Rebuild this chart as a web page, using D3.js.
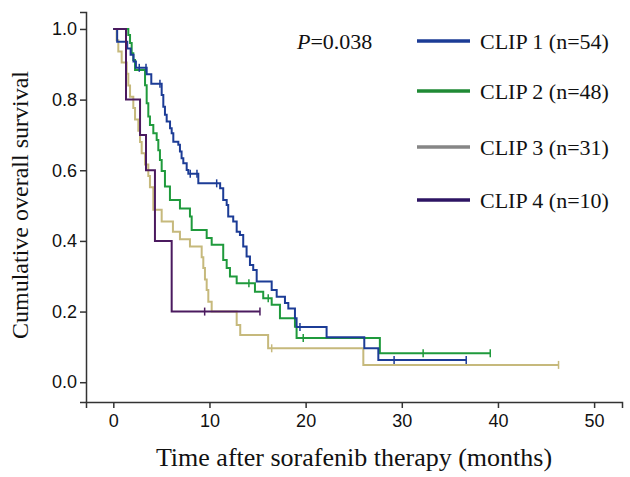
<!DOCTYPE html>
<html><head><meta charset="utf-8">
<script src="https://cdn.jsdelivr.net/npm/d3@7"></script>
<style>html,body{margin:0;padding:0;background:#fff}</style>
</head><body>
<svg id="c" width="630" height="477"></svg>
<script>
// ---- data ----
const seriesNames = ["CLIP 1 (n=54)", "CLIP 2 (n=48)", "CLIP 3 (n=31)", "CLIP 4 (n=10)"];
const clip1Times = [0.40,1.45,1.80,2.10,2.35,3.47,3.95,5.03,5.20,5.37,5.55,5.90,6.07,6.24,6.76,6.93,7.10,7.28,7.63,7.80,8.84,11.11,11.43,11.79,11.95,12.47,12.83,13.17,13.51,13.86,14.21,14.55,14.91,16.47,16.99,17.85,18.20,18.89,19.06,22.18,26.10,27.56];
const clip1Surv  = [0.964,0.945,0.927,0.908,0.890,0.872,0.845,0.813,0.780,0.757,0.738,0.719,0.705,0.681,0.672,0.653,0.634,0.620,0.601,0.590,0.563,0.549,0.516,0.502,0.469,0.455,0.426,0.417,0.384,0.356,0.332,0.318,0.285,0.261,0.242,0.224,0.209,0.181,0.156,0.127,0.096,0.063];
const clip1Censor = [2.7,3.4,4.85,8.0,8.7,10.75,19.41,29.2,36.7];

const clip2Times = [1.56,1.74,1.91,2.08,2.26,3.30,3.47,3.64,3.81,4.16,4.51,4.68,4.85,5.03,5.37,5.89,6.93,7.97,8.15,9.71,10.23,11.43,11.79,12.13,12.83,14.73,15.59,16.47,17.33,18.89,19.06,27.72];
const clip2Surv  = [0.983,0.960,0.931,0.912,0.884,0.841,0.790,0.752,0.728,0.705,0.686,0.657,0.629,0.598,0.554,0.516,0.492,0.469,0.431,0.408,0.389,0.346,0.323,0.299,0.280,0.256,0.238,0.219,0.181,0.157,0.125,0.082];
const clip2Censor = [14.1,16.11,19.75,32.22,39.2];

const clip3Times = [0.35,0.52,0.87,1.39,1.56,1.74,2.08,2.26,2.60,2.78,2.95,3.30,3.64,3.81,4.16,5.03,6.20,6.93,7.97,9.19,9.36,9.53,9.71,9.88,10.23,12.83,13.20,16.10,26.00];
const clip3Surv  = [0.968,0.936,0.905,0.873,0.840,0.808,0.776,0.744,0.712,0.680,0.648,0.616,0.584,0.552,0.488,0.455,0.426,0.405,0.384,0.354,0.323,0.291,0.261,0.228,0.200,0.162,0.134,0.096,0.049];
const clip3Censor = [16.47,46.3];

const clip4Times = [1.32,2.78,3.40,4.33,6.07];
const clip4Surv  = [0.8,0.7,0.6,0.4,0.2];
const clip4Censor = [9.5,15.25];

const xTicks = [0,10,20,30,40,50];
const yTicks = [0.0,0.2,0.4,0.6,0.8,1.0];
const pLabel = "=0.038";

// ---- styles ----
const curveColors  = ["#1c3c96", "#1f9a3c", "#c6b97c", "#4b1a5f"];
const legendColors = ["#1c3c96", "#1f8a35", "#868686", "#2d1463"];

const svg = d3.select("#c");
const x = d3.scaleLinear().domain([-2.84, 52.9]).range([86, 622]);
const y = d3.scaleLinear().domain([-0.056, 1.048]).range([402, 12]);

// axes
const yAxis = d3.axisLeft(y).tickValues(yTicks).tickFormat(d3.format(".1f")).tickSizeOuter(0).tickSize(6).tickPadding(3);
const xAxis = d3.axisBottom(x).tickValues(xTicks).tickFormat(d3.format("d")).tickSizeOuter(0).tickSize(6).tickPadding(6);
const gy = svg.append("g").attr("transform","translate(86,0)").call(yAxis);
const gx = svg.append("g").attr("transform","translate(0,402)").call(xAxis);
[gx, gy].forEach(g => {
  g.selectAll("path,line").attr("stroke","#333").attr("stroke-width",1.5);
  g.selectAll("text").attr("fill","#111").attr("font-family","Liberation Sans, Arial, sans-serif").attr("font-size",18);
});

// curves
const series = [
  {t: clip1Times, s: clip1Surv, c: clip1Censor},
  {t: clip2Times, s: clip2Surv, c: clip2Censor},
  {t: clip3Times, s: clip3Surv, c: clip3Censor},
  {t: clip4Times, s: clip4Surv, c: clip4Censor}
];
function survAt(d, t){ let v = 1; d.t.forEach((ti,i)=>{ if (ti <= t) v = d.s[i]; }); return v; }
const line = d3.line().x(p=>x(p[0])).y(p=>y(p[1])).curve(d3.curveStepAfter);
const drawOrder = [2,1,0,3];
drawOrder.forEach(i => {
  const d = series[i];
  const tEnd = Math.max(d3.max(d.c), d3.max(d.t));
  const pts = [[0,1]].concat(d.t.map((t,k)=>[t,d.s[k]]));
  pts.push([tEnd, d.s[d.s.length-1]]);
  svg.append("path").attr("d", line(pts)).attr("fill","none").attr("stroke",curveColors[i]).attr("stroke-width",2);
  svg.append("g").selectAll("line").data(d.c).join("line")
    .attr("x1",t=>x(t)).attr("x2",t=>x(t))
    .attr("y1",t=>y(survAt(d,t))-4).attr("y2",t=>y(survAt(d,t))+4)
    .attr("stroke",curveColors[i]).attr("stroke-width",1.5);
});

// legend
const serif = "Liberation Serif, Times New Roman, serif";
const pt = svg.append("text").attr("x",297).attr("y",49).attr("font-family",serif).attr("font-size",22).attr("fill","#111");
pt.append("tspan").attr("font-style","italic").text("P");
pt.append("tspan").text(pLabel);
const legY = [41, 91, 147, 200];
seriesNames.forEach((n,i) => {
  svg.append("line").attr("x1",417).attr("x2",470).attr("y1",legY[i]).attr("y2",legY[i])
    .attr("stroke",legendColors[i]).attr("stroke-width",3.5);
  svg.append("text").attr("x",480).attr("y",legY[i]+8).attr("font-family",serif).attr("font-size",22).attr("fill","#111").text(n);
});

// axis titles
svg.append("text").attr("x",354).attr("y",466).attr("text-anchor","middle").attr("font-family",serif)
  .attr("font-size",26).attr("fill","#111").text("Time after sorafenib therapy (months)");
svg.append("text").attr("transform","translate(28,205) rotate(-90)").attr("text-anchor","middle").attr("font-family",serif)
  .attr("font-size",24).attr("fill","#111").text("Cumulative overall survival");
</script>
</body></html>
